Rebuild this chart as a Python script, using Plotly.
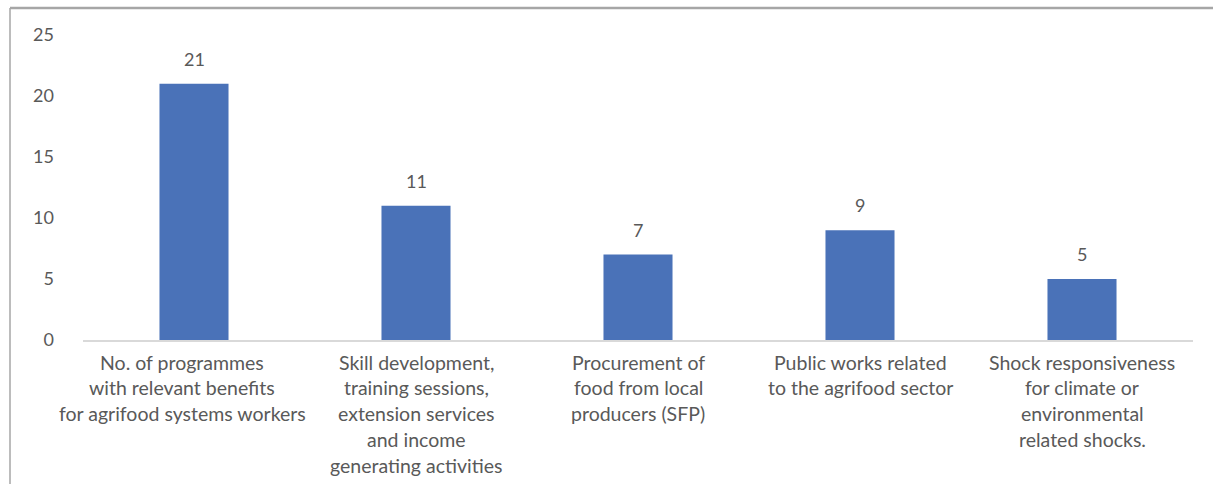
import plotly.graph_objects as go

categories = [
    "No. of programmes with relevant benefits for agrifood systems workers",
    "Skill development, training sessions, extension services and income generating activities",
    "Procurement of food from local producers (SFP)",
    "Public works related to the agrifood sector",
    "Shock responsiveness for climate or environmental related shocks.",
]
label_lines = [
    ["No. of programmes", "with relevant benefits", "for agrifood systems workers"],
    ["Skill development,", "training sessions,", "extension services", "and income", "generating activities"],
    ["Procurement of", "food from local", "producers (SFP)"],
    ["Public works related", "to the agrifood sector"],
    ["Shock responsiveness", "for climate or", "environmental", "related shocks."],
]
values = [21, 11, 7, 9, 5]
y_ticks = [0, 5, 10, 15, 20, 25]

FONT = "Lato"
GREY = "#595959"
BAR = "#4A72B8"
# horizontal nudge (px) of the first category label, as in the original layout
LABEL_XSHIFT = {0: -12}

fig = go.Figure()
fig.add_trace(go.Bar(
    x=categories, y=values, marker=dict(color=BAR, line=dict(width=0)),
    hoverinfo="x+y",
))

annotations = []
for cat, v in zip(categories, values):
    annotations.append(dict(
        x=cat, y=v, xref="x", yref="y", text=str(v), showarrow=False,
        yanchor="middle", yshift=25, font=dict(family=FONT, size=18, color=GREY),
    ))
for k, (cat, lines) in enumerate(zip(categories, label_lines)):
    for i, line in enumerate(lines):
        annotations.append(dict(
            x=cat, y=0, xref="x", yref="y", text=line, showarrow=False,
            yanchor="middle", yshift=-(22 + i * 25.8), xshift=LABEL_XSHIFT.get(k, 0),
            font=dict(family=FONT, size=19.5, color=GREY),
        ))

L, R, T, B = 83, 20, 35, 144
W, H = 1213, 484
pw = W - L - R
ph = H - T - B
frame_x = (10 - L) / pw
frame_y = (ph + T - 8) / ph

shapes = [
    dict(type="line", xref="paper", yref="paper", x0=frame_x, x1=(W + 5 - L) / pw,
         y0=frame_y, y1=frame_y, line=dict(color="#A6A6A6", width=2.5)),
    dict(type="line", xref="paper", yref="paper", x0=frame_x, x1=frame_x,
         y0=frame_y, y1=-(B + 5) / ph, line=dict(color="#A6A6A6", width=1.5)),
]

fig.update_layout(
    width=W, height=H,
    margin=dict(l=L, r=R, t=T, b=B, autoexpand=False),
    paper_bgcolor="white", plot_bgcolor="white",
    bargap=0.689,
    showlegend=False,
    annotations=annotations,
    shapes=shapes,
    font=dict(family=FONT, size=18, color=GREY),
    xaxis=dict(showticklabels=False, showline=True, linecolor="#D9D9D9", linewidth=1.5,
               showgrid=False, zeroline=False, ticks="", automargin=False,
               range=[-0.5, len(categories) - 0.5]),
    yaxis=dict(range=[0, 25], tickvals=y_ticks, showgrid=False, zeroline=False,
               showline=False, ticks="", ticklabelstandoff=28, automargin=False,
               tickfont=dict(family=FONT, size=18, color=GREY)),
)

fig.write_html(
    "out.html",
    config={"displayModeBar": False},
    post_script="document.body.style.margin='0';document.body.style.overflow='hidden';",
)
